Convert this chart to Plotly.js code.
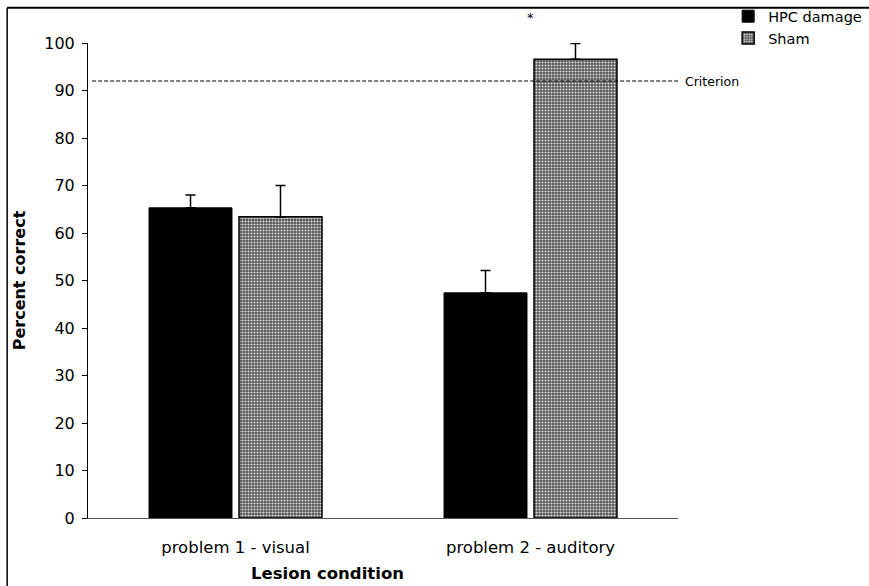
<!DOCTYPE html>
<html>
<head>
<meta charset="utf-8">
<script src="https://cdn.plot.ly/plotly-3.0.1.min.js"></script>
<style>html,body{margin:0;padding:0;background:#fff;}#chart{width:869px;height:586px;}</style>
</head>
<body>
<div id="chart"></div>
<script>
var categories = ["problem 1 - visual", "problem 2 - auditory"];
var hpcValues = [65.3, 47.4];
var hpcErrors = [2.7, 4.7];
var shamValues = [63.4, 96.6];
var shamErrors = [6.6, 3.3];
var criterion = 92;
var yTicks = [0, 10, 20, 30, 40, 50, 60, 70, 80, 90, 100];

var font = "DejaVu Sans, Verdana, sans-serif";

var hpc = {
  type: "bar", name: "HPC damage", x: categories, y: hpcValues,
  marker: {color: "#000000", line: {color: "#000000", width: 1}},
  error_y: {type: "data", array: hpcErrors, arrayminus: [0, 0], symmetric: false, color: "#000", thickness: 1.5, width: 5}
};
var sham = {
  type: "bar", name: "Sham", x: categories, y: shamValues,
  marker: {color: "#6a6a6a", line: {color: "#000000", width: 1.5},
    pattern: {shape: ".", fgcolor: "#dcdcdc", bgcolor: "#555555", size: 3, solidity: 0.4}},
  error_y: {type: "data", array: shamErrors, arrayminus: [0, 0], symmetric: false, color: "#000", thickness: 1.5, width: 5}
};

var layout = {
  width: 869, height: 586,
  margin: {l: 88, r: 191, t: 43, b: 68, autoexpand: false},
  paper_bgcolor: "#fff", plot_bgcolor: "#fff",
  font: {family: font, size: 13, color: "#000"},
  barmode: "group", bargap: 0.39, bargroupgap: 0.078,
  showlegend: true,
  legend: {x: 1.085, y: 1.09, xanchor: "left", yanchor: "top", font: {family: font, size: 14.5},
    bgcolor: "rgba(0,0,0,0)", tracegroupgap: 0, itemwidth: 30},
  xaxis: {
    type: "category", range: [-0.5, 1.5],
    showline: true, linecolor: "#555", linewidth: 1, ticks: "", showgrid: false, zeroline: false,
    tickfont: {family: font, size: 16.5}, ticklabelstandoff: 14
  },
  yaxis: {
    range: [0, 100], tickvals: yTicks, ticktext: yTicks.map(String),
    showline: true, linecolor: "#000", linewidth: 1, ticks: "outside", ticklen: 5, tickcolor: "#000",
    showgrid: false, zeroline: false,
    tickfont: {family: font, size: 16}, ticklabelstandoff: 4,
    title: {text: "<b>Percent correct</b>", font: {family: font, size: 16}, standoff: 14}
  },
  shapes: [
    {type: "line", xref: "paper", yref: "y", x0: 0.007, x1: 1.003, y0: criterion, y1: criterion,
     line: {color: "#000", width: 1.2, dash: "4px,2px"}},
    {type: "line", xref: "paper", yref: "paper", x0: -0.137, x1: 1.33, y0: 1.074, y1: 1.074,
     line: {color: "#000", width: 2}},
    {type: "line", xref: "paper", yref: "paper", x0: -0.137, x1: -0.137, y0: 1.074, y1: -0.143,
     line: {color: "#000", width: 1.5}}
  ],
  annotations: [
    {xref: "paper", yref: "y", x: 1.003, y: criterion, text: "Criterion", showarrow: false,
     xanchor: "left", xshift: 3, font: {family: font, size: 12.5}},
    {xref: "x", yref: "paper", x: categories[1], y: 1.074, text: "*", showarrow: false,
     font: {family: font, size: 13}},
    {xref: "paper", yref: "paper", x: (327 - 88) / 590, y: (518 - 573) / 475, text: "<b>Lesion condition</b>",
     showarrow: false, xanchor: "center", yanchor: "middle", font: {family: font, size: 16.5}}
  ]
};

Plotly.newPlot("chart", [hpc, sham], layout, {displayModeBar: false, staticPlot: true});
</script>
</body>
</html>
